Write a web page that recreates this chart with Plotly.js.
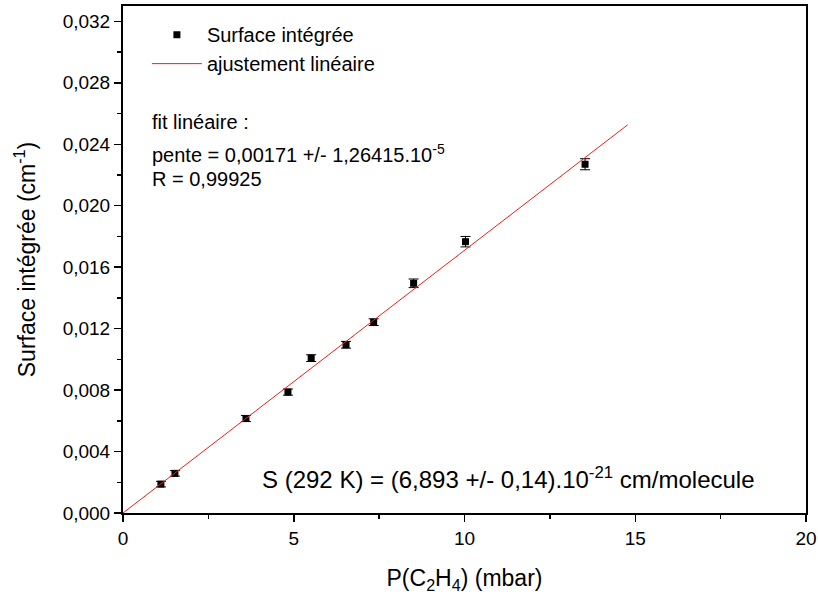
<!DOCTYPE html>
<html><head><meta charset="utf-8">
<script src="https://cdn.plot.ly/plotly-3.0.1.min.js"></script>
<style>body{margin:0;background:#fff}#c{width:818px;height:599px}</style>
</head><body><div id="c"></div>
<script>
const pressure = [1.11, 1.52, 3.60, 4.83, 5.51, 6.53, 7.34, 8.51, 10.03, 13.53];
const surface = [0.00188, 0.00258, 0.00615, 0.00787, 0.01008, 0.01095, 0.01242, 0.01495, 0.01766, 0.02270];
const surfaceErr = [0.00018, 0.00018, 0.00020, 0.00020, 0.00022, 0.00022, 0.00022, 0.00028, 0.00034, 0.00036];
const fitX = [0, 14.78];
const fitY = [0, 0.02527];

const font = 'Liberation Sans, Arial, sans-serif';
const data = [
  {x: pressure, y: surface, type: 'scatter', mode: 'markers', name: 'Surface intégrée',
   marker: {symbol: 'square', size: 7, color: '#000'},
   error_y: {type: 'data', array: surfaceErr, visible: true, color: '#000', thickness: 1, width: 5}},
  {x: fitX, y: fitY, type: 'scatter', mode: 'lines', name: 'ajustement linéaire',
   line: {color: '#e8201a', width: 1}}
];
const axisCommon = {showline: true, linewidth: 2, linecolor: '#000', mirror: true, ticks: 'outside',
  ticklen: 7, tickwidth: 1.5, tickcolor: '#000', showgrid: false, zeroline: false,
  tickfont: {family: font, size: 19, color: '#000'}};
const layout = {
  width: 818, height: 599, paper_bgcolor: '#fff', plot_bgcolor: '#fff',
  margin: {l: 123, r: 12, t: 6, b: 86},
  separators: ', ',
  showlegend: true,
  legend: {x: 0.035, y: 0.982, xanchor: 'left', yanchor: 'top', bgcolor: 'rgba(0,0,0,0)',
    font: {family: font, size: 20, color: '#000'}, tracegroupgap: 0, itemwidth: 50},
  xaxis: Object.assign({}, axisCommon, {range: [0, 20], dtick: 5,
    minor: {dtick: 2.5, ticks: 'outside', ticklen: 4, tickcolor: '#000', showgrid: false},
    title: {text: 'P(C<sub>2</sub>H<sub>4</sub>) (mbar)', font: {family: font, size: 23, color: '#000'}, standoff: 22}}),
  yaxis: Object.assign({}, axisCommon, {range: [0, 0.033], tick0: 0, dtick: 0.004, tickformat: '.3f',
    minor: {dtick: 0.002, ticks: 'outside', ticklen: 4, tickcolor: '#000', showgrid: false},
    title: {text: 'Surface intégrée (cm<sup>-1</sup>)', font: {family: font, size: 23, color: '#000'}, standoff: 21}}),
  annotations: [
    {xref: 'paper', yref: 'paper', x: 0.04, y: 0.771, xanchor: 'left', yanchor: 'middle', showarrow: false,
     text: 'fit linéaire :', font: {family: font, size: 20, color: '#000'}},
    {xref: 'paper', yref: 'paper', x: 0.04, y: 0.709, xanchor: 'left', yanchor: 'middle', showarrow: false,
     text: 'pente = 0,00171 +/- 1,26415.10<sup>-5</sup>', font: {family: font, size: 20, color: '#000'}},
    {xref: 'paper', yref: 'paper', x: 0.04, y: 0.658, xanchor: 'left', yanchor: 'middle', showarrow: false,
     text: 'R = 0,99925', font: {family: font, size: 20, color: '#000'}},
    {xref: 'paper', yref: 'paper', x: 0.2, y: 0.069, xanchor: 'left', yanchor: 'middle', showarrow: false,
     text: 'S (292 K) = (6,893 +/- 0,14).10<sup>-21</sup> cm/molecule', font: {family: font, size: 24, color: '#000'}}
  ]
};
Plotly.newPlot('c', data, layout, {displayModeBar: false, staticPlot: true});
</script></body></html>
